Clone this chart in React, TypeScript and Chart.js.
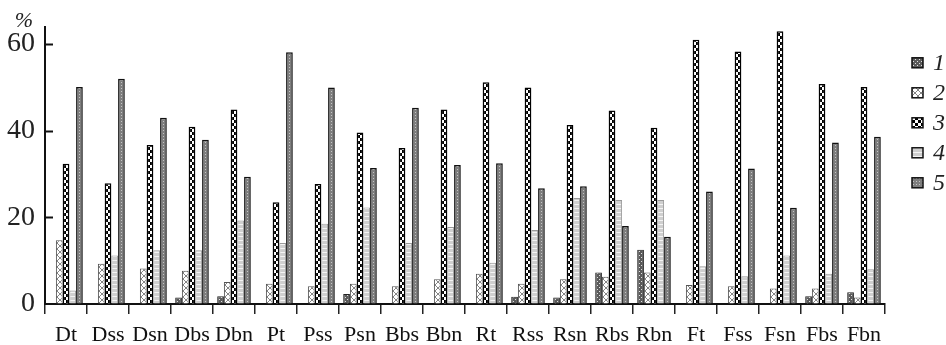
import React, { useEffect, useRef } from "react";
import { Chart, registerables } from "chart.js";

Chart.register(...registerables);

const categories = ["Dt", "Dss", "Dsn", "Dbs", "Dbn", "Pt", "Pss", "Psn", "Bbs", "Bbn", "Rt", "Rss", "Rsn", "Rbs", "Rbn", "Ft", "Fss", "Fsn", "Fbs", "Fbn"];
const seriesLabels = ["1", "2", "3", "4", "5"];
const series1 = [0, 0, 0, 1.5, 1.8, 0, 0, 2.3, 0, 0, 0, 1.7, 1.5, 7.3, 12.5, 0, 0, 0, 1.8, 2.7];
const series2 = [14.7, 9.3, 8.2, 7.7, 5.1, 4.7, 4.1, 4.7, 4.1, 5.7, 7.0, 4.7, 5.7, 6.3, 7.3, 4.4, 4.1, 3.6, 3.6, 1.5];
const series3 = [32.4, 27.9, 36.7, 40.9, 44.9, 23.5, 27.7, 39.6, 36.0, 44.9, 51.2, 50.0, 41.3, 44.7, 40.7, 61.0, 58.3, 63.0, 50.8, 50.1];
const series4 = [3.1, 11.2, 12.4, 12.4, 19.3, 14.1, 18.5, 22.3, 14.1, 17.8, 9.5, 17.1, 24.5, 24.0, 24.0, 8.7, 6.4, 11.2, 7.0, 8.0];
const series5 = [50.1, 52.0, 43.0, 37.9, 29.4, 58.1, 50.0, 31.4, 45.3, 32.1, 32.5, 26.7, 27.2, 18.0, 15.5, 26.0, 31.3, 22.2, 37.3, 38.6];
const yTicks = [0, 20, 40, 60];
const yMax = 64;

function makePattern(size: number, draw: (ctx: CanvasRenderingContext2D, s: number) => void) {
  const c = document.createElement("canvas");
  c.width = size;
  c.height = size;
  const ctx = c.getContext("2d") as CanvasRenderingContext2D;
  draw(ctx, size);
  return ctx.createPattern(c, "repeat") as CanvasPattern;
}

function buildStyles() {
  const p1 = makePattern(4, (ctx) => {
    ctx.fillStyle = "#5a5a5a";
    ctx.fillRect(0, 0, 4, 4);
    ctx.fillStyle = "#e0e0e0";
    ctx.fillRect(1, 1, 1, 1);
    ctx.fillRect(3, 3, 1, 1);
  });
  const p2 = makePattern(6, (ctx) => {
    ctx.fillStyle = "#ffffff";
    ctx.fillRect(0, 0, 6, 6);
    ctx.strokeStyle = "#666";
    ctx.lineWidth = 0.8;
    ctx.beginPath();
    ctx.moveTo(0, 0);
    ctx.lineTo(6, 6);
    ctx.moveTo(6, 0);
    ctx.lineTo(0, 6);
    ctx.stroke();
  });
  const p3 = makePattern(6, (ctx) => {
    ctx.fillStyle = "#ffffff";
    ctx.fillRect(0, 0, 6, 6);
    ctx.fillStyle = "#000000";
    ctx.fillRect(0, 0, 3, 3);
    ctx.fillRect(3, 3, 3, 3);
  });
  const p4 = makePattern(4, (ctx) => {
    ctx.fillStyle = "#cfcfcf";
    ctx.fillRect(0, 0, 4, 4);
    ctx.fillStyle = "#f4f4f4";
    ctx.fillRect(0, 0, 4, 1);
  });
  const p5 = makePattern(3, (ctx) => {
    ctx.fillStyle = "#7e7e7e";
    ctx.fillRect(0, 0, 3, 3);
    ctx.fillStyle = "#c4c4c4";
    ctx.fillRect(1, 1, 1, 1);
  });
  return [
    { bg: p1, border: "#222", width: 1 },
    { bg: p2, border: "#555", width: 1 },
    { bg: p3, border: "#000", width: 1.5 },
    { bg: p4, border: "#999", width: 1 },
    { bg: p5, border: "#111", width: 1.5 },
  ];
}

const decorPlugin = {
  id: "decor",
  afterDraw(chart: any) {
    const { ctx, chartArea, scales } = chart;
    const y = scales.y;
    ctx.save();
    // inner y ticks
    ctx.strokeStyle = "#111";
    ctx.lineWidth = 2;
    yTicks.forEach((v) => {
      const py = Math.round(y.getPixelForValue(v)) + 0.5;
      if (v === 0) return;
      ctx.beginPath();
      ctx.moveTo(chartArea.left, py);
      ctx.lineTo(chartArea.left + 8, py);
      ctx.stroke();
    });
    // percent sign
    ctx.fillStyle = "#222";
    ctx.font = "italic 22px 'Liberation Serif'";
    ctx.textAlign = "center";
    ctx.textBaseline = "alphabetic";
    ctx.fillText("%", chartArea.left - 21, chartArea.top);
    // legend
    const lx = chartArea.right + 27;
    const ly0 = chartArea.top + 36;
    const step = 30;
    chart.data.datasets.forEach((ds: any, i: number) => {
      const cy = ly0 + i * step;
      ctx.fillStyle = ds.backgroundColor;
      ctx.fillRect(lx, cy - 5, 11, 10);
      ctx.strokeStyle = "#111";
      ctx.lineWidth = 1.5;
      ctx.strokeRect(lx, cy - 5, 11, 10);
      ctx.fillStyle = "#222";
      ctx.font = "italic 24px 'Liberation Serif'";
      ctx.textAlign = "left";
      ctx.textBaseline = "middle";
      ctx.fillText(ds.label, lx + 21, cy + 1);
    });
    ctx.restore();
  },
};

export default function App() {
  const ref = useRef<HTMLCanvasElement>(null);
  useEffect(() => {
    document.body.style.margin = "0";
    const styles = buildStyles();
    const all = [series1, series2, series3, series4, series5];
    const chart = new Chart(ref.current as HTMLCanvasElement, {
      type: "bar",
      data: {
        labels: categories,
        datasets: all.map((s, i) => ({
          label: seriesLabels[i],
          data: s.map((v) => (v === 0 ? null : v)),
          backgroundColor: styles[i].bg,
          borderColor: styles[i].border,
          borderWidth: styles[i].width,
          categoryPercentage: 0.8,
          barPercentage: 1.0,
        })),
      },
      options: {
        responsive: false,
        animation: false,
        layout: { padding: { top: 25, right: 61, left: 0, bottom: 0 } },
        plugins: { legend: { display: false }, tooltip: { enabled: false } },
        scales: {
          x: {
            grid: { display: true, drawOnChartArea: false, drawTicks: true, tickLength: 10, color: "#222", lineWidth: 1.5, offset: true },
            border: { display: true, color: "#111", width: 2 },
            ticks: { font: { family: "'Liberation Serif'", size: 22 }, color: "#111", padding: 8, maxRotation: 0, autoSkip: false },
            afterFit: (s: any) => { s.height = 41; },
          },
          y: {
            min: 0,
            max: yMax,
            grid: { display: true, drawOnChartArea: false, drawTicks: false },
            border: { display: true, color: "#111", width: 2 },
            ticks: { stepSize: 20, font: { family: "'Liberation Serif'", size: 28 }, color: "#222", padding: 10 },
            afterBuildTicks: (s: any) => { s.ticks = yTicks.map((v) => ({ value: v })); },
            afterFit: (s: any) => { s.width = 45; },
          },
        },
      },
      plugins: [decorPlugin],
    } as any);
    return () => chart.destroy();
  }, []);
  return (
    <div style={{ width: 946, height: 345 }}>
      <canvas ref={ref} width={946} height={345} />
    </div>
  );
}
